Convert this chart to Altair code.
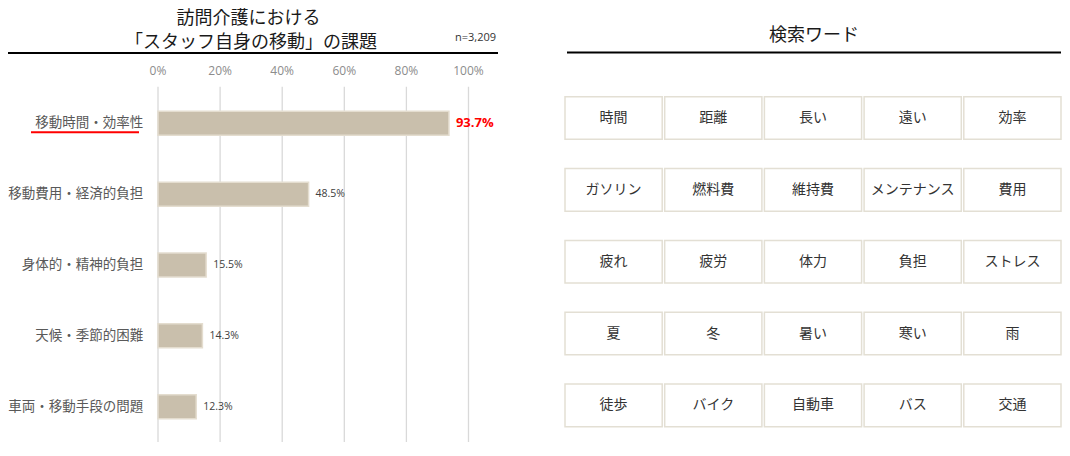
import altair as alt
import pandas as pd

# ---------------- data ----------------
categories = ["移動時間・効率性", "移動費用・経済的負担", "身体的・精神的負担", "天候・季節的困難", "車両・移動手段の問題"]
values = [93.7, 48.5, 15.5, 14.3, 12.3]
tick_values = [0, 20, 40, 60, 80, 100]
tick_labels = ["0%", "20%", "40%", "60%", "80%", "100%"]
title_lines = ["訪問介護における", "「スタッフ自身の移動」の課題"]
sample_note = "n=3,209"
right_title = "検索ワード"
keyword_rows = [
    ["時間", "距離", "長い", "遠い", "効率"],
    ["ガソリン", "燃料費", "維持費", "メンテナンス", "費用"],
    ["疲れ", "疲労", "体力", "負担", "ストレス"],
    ["夏", "冬", "暑い", "寒い", "雨"],
    ["徒歩", "バイク", "自動車", "バス", "交通"],
]

JP = "Noto Sans CJK JP"
NUM = "Open Sans"

bars_df = pd.DataFrame({
    "cat": categories,
    "val": values,
    "label": [f"{v:.1f}%" for v in values],
    "rank": list(range(len(categories))),
})
ticks_df = pd.DataFrame({"t": tick_values, "lab": tick_labels})
kw_df = pd.DataFrame([
    {"row": r, "col": c, "word": w}
    for r, row in enumerate(keyword_rows)
    for c, w in enumerate(row)
])
one = pd.DataFrame({"k": [0]})

# ---------------- scales ----------------
def xs():
    return alt.Scale(domain=[0, 100], range=[150, 460.5], nice=False, zero=True)

def ys():
    return alt.Scale(type="band", domain=categories, range=[80, 434],
                     paddingInner=0.661, paddingOuter=0.33)

def cs():
    return alt.Scale(type="band", domain=list(range(5)), range=[557, 1053],
                     paddingInner=0.025, paddingOuter=0)

def rs():
    return alt.Scale(type="band", domain=list(range(5)), range=[88.7, 418.7],
                     paddingInner=0.407, paddingOuter=0)

# ---------------- left panel ----------------
grid = alt.Chart(ticks_df).mark_rule(color="#d9d9d9", strokeWidth=1.3).encode(
    x=alt.X("t:Q", scale=xs(), axis=None),
    y=alt.value(78.7), y2=alt.value(434),
)
tick_text = alt.Chart(ticks_df).mark_text(
    font=NUM, fontSize=12, color="#8c8c8c", baseline="middle", align="center"
).encode(
    x=alt.X("t:Q", scale=xs(), axis=None),
    y=alt.value(62.5),
    text="lab:N",
)
bars = alt.Chart(bars_df).mark_bar(
    color="#c9bfac", stroke="#e4ddcf", strokeWidth=1.5
).encode(
    x=alt.X("val:Q", scale=xs(), axis=None),
    y=alt.Y("cat:N", scale=ys(), axis=None),
)
cat_text = alt.Chart(bars_df).mark_text(
    font=JP, fontSize=13.5, color="#595959", align="right", baseline="middle"
).encode(
    x=alt.value(135.3),
    y=alt.Y("cat:N", scale=ys(), axis=None),
    text="cat:N",
)
underline = alt.Chart(bars_df).transform_filter(alt.datum.rank == 0).mark_rule(
    color="#ff0000", strokeWidth=2, yOffset=9
).encode(
    x=alt.value(23), x2=alt.value(131),
    y=alt.Y("cat:N", scale=ys(), axis=None),
)
val_top = alt.Chart(bars_df).transform_filter(alt.datum.rank == 0).mark_text(
    font=NUM, fontSize=13, fontWeight="bold", color="#ff0000",
    align="left", baseline="middle", dx=7
).encode(
    x=alt.X("val:Q", scale=xs(), axis=None),
    y=alt.Y("cat:N", scale=ys(), axis=None),
    text="label:N",
)
val_rest = alt.Chart(bars_df).transform_filter(alt.datum.rank > 0).mark_text(
    font=NUM, fontSize=10.5, color="#404040",
    align="left", baseline="middle", dx=7
).encode(
    x=alt.X("val:Q", scale=xs(), axis=None),
    y=alt.Y("cat:N", scale=ys(), axis=None),
    text="label:N",
)
title1 = alt.Chart(one).mark_text(
    font=JP, fontSize=18, color="#1a1a1a", align="center", baseline="middle",
    text=title_lines[0]
).encode(x=alt.value(240.5), y=alt.value(11))
title2 = alt.Chart(one).mark_text(
    font=JP, fontSize=18, color="#1a1a1a", align="center", baseline="middle",
    text=title_lines[1]
).encode(x=alt.value(243), y=alt.value(34.5))
note = alt.Chart(one).mark_text(
    font=NUM, fontSize=11, color="#333333", align="right", baseline="middle",
    text=sample_note
).encode(x=alt.value(488), y=alt.value(30))
left_line = alt.Chart(one).mark_rule(color="#000000", strokeWidth=2).encode(
    x=alt.value(0), x2=alt.value(490), y=alt.value(45)
)

# ---------------- right panel ----------------
right_head = alt.Chart(one).mark_text(
    font=JP, fontSize=18, color="#1a1a1a", align="center", baseline="middle",
    text=right_title
).encode(x=alt.value(806), y=alt.value(28))
right_line = alt.Chart(one).mark_rule(color="#000000", strokeWidth=2).encode(
    x=alt.value(559), x2=alt.value(1053), y=alt.value(44.5)
)
boxes = alt.Chart(kw_df).mark_rect(
    fill="#ffffff", stroke="#e3dfd4", strokeWidth=1.5
).encode(
    x=alt.X("col:O", scale=cs(), axis=None),
    y=alt.Y("row:O", scale=rs(), axis=None),
)
box_text = alt.Chart(kw_df).mark_text(
    font=JP, fontSize=14, color="#333333", align="center", baseline="middle"
).encode(
    x=alt.X("col:O", scale=cs(), axis=None),
    y=alt.Y("row:O", scale=rs(), axis=None),
    text="word:N",
)

chart = alt.layer(
    grid, tick_text, bars, cat_text, underline, val_top, val_rest,
    title1, title2, note, left_line,
    right_head, right_line, boxes, box_text,
).resolve_scale(x="independent", y="independent").properties(
    width=1054, height=436, autosize=alt.AutoSizeParams(type="none"), padding=0,
).configure_view(stroke=None)

chart.save("out.html", embed_options={"renderer": "svg", "actions": False})
